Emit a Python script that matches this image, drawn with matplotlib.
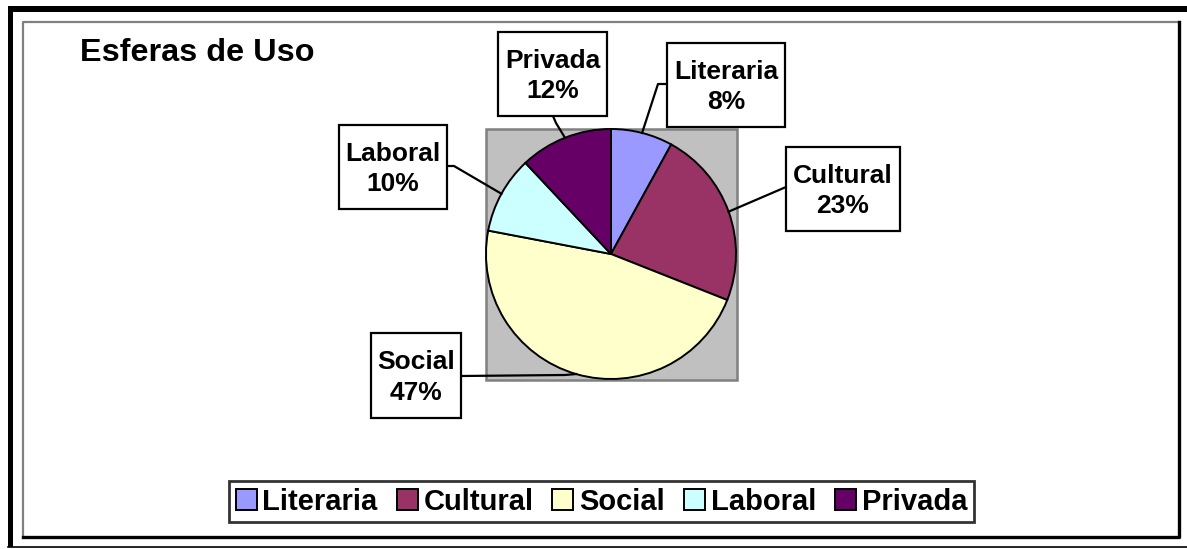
import numpy as np
import matplotlib
matplotlib.use("Agg")
import matplotlib.pyplot as plt
from matplotlib.patches import Rectangle

plt.rcParams['font.family'] = ['Liberation Sans', 'DejaVu Sans']

# datos
esferas = ["Literaria", "Cultural", "Social", "Laboral", "Privada"]
valores = [8, 23, 47, 10, 12]
colores = ["#9999FF", "#993366", "#FFFFCC", "#CCFFFF", "#660066"]

W, H = 1187, 549
fig = plt.figure(figsize=(W / 100, H / 100), dpi=100)
ax = fig.add_axes([0, 0, 1, 1])

def Y(y):
    # coordenadas de pixel desde arriba
    return H - y

# marco exterior
ax.add_patch(Rectangle((8, Y(12)), W - 8, 6, facecolor="black", edgecolor="none"))
ax.add_patch(Rectangle((8, Y(547)), 5, 541, facecolor="black", edgecolor="none"))
ax.plot([8, W], [Y(547), Y(547)], color="black", lw=1.2)

# marco del grafico (con sombra)
ax.plot([23, 23, 1179], [Y(538), Y(22), Y(22)], color="#808080", lw=1.6)
ax.plot([23, 1179, 1179], [Y(537), Y(537), Y(22)], color="black", lw=2.4)

# area de trazado gris
cx, cy, r = 611, 254, 125
ax.add_patch(Rectangle((cx - r, Y(cy + r + 1)), 2 * r + 1, 2 * r + 1,
                       facecolor="#C0C0C0", edgecolor="#808080", lw=1.8))

wedges, _ = ax.pie(valores, colors=colores, startangle=90, counterclock=False,
                   center=(cx, Y(cy)), radius=r, frame=True,
                   wedgeprops=dict(edgecolor="black", linewidth=1.4))

# etiquetas
cajas = {
    "Literaria": (667, 43, 785, 127, (667, 84), (658, 84)),
    "Cultural": (786, 147, 900, 231, (786, 187), None),
    "Social": (371, 333, 461, 418, (461, 376), (565, 375)),
    "Laboral": (339, 125, 447, 209, (447, 166), (454, 166)),
    "Privada": (498, 32, 607, 116, (553, 116), (556, 123)),
}
total = sum(valores)
for w, nombre, v in zip(wedges, esferas, valores):
    x0, y0, x1, y1, anc, codo = cajas[nombre]
    ang = np.deg2rad((w.theta1 + w.theta2) / 2)
    ex, ey = w.center[0] + r * np.cos(ang), w.center[1] + r * np.sin(ang)
    xs = [anc[0]] + ([codo[0]] if codo else []) + [ex]
    ys = [Y(anc[1])] + ([Y(codo[1])] if codo else []) + [ey]
    ax.plot(xs, ys, color="black", lw=1.6, zorder=3)
    ax.add_patch(Rectangle((x0, Y(y1)), x1 - x0, y1 - y0, facecolor="white",
                           edgecolor="black", lw=1.6, zorder=4))
    ax.text((x0 + x1) / 2, Y((y0 + y1) / 2 + 2), f"{nombre}\n{round(v / total * 100)}%",
            ha="center", va="center", fontsize=19, fontweight="bold",
            linespacing=1.32, zorder=5)

ax.text(80, Y(53), "Esferas de Uso", fontsize=23.3, fontweight="bold",
        ha="left", va="center")

leg = ax.legend(wedges, esferas, loc="center", bbox_to_anchor=(601.5 / W, Y(501.5) / H),
                bbox_transform=fig.transFigure, ncol=5, frameon=True, fancybox=False,
                prop=dict(size=21, weight="bold"), handlelength=0.72, handleheight=0.72,
                handletextpad=0.2, columnspacing=0.65, borderpad=0.22, borderaxespad=0)
leg.get_frame().set_edgecolor("black")
leg.get_frame().set_linewidth(2)

ax.set_xlim(0, W)
ax.set_ylim(0, H)
ax.set_aspect("auto")
ax.axis("off")

fig.savefig("out.png", dpi=100)
